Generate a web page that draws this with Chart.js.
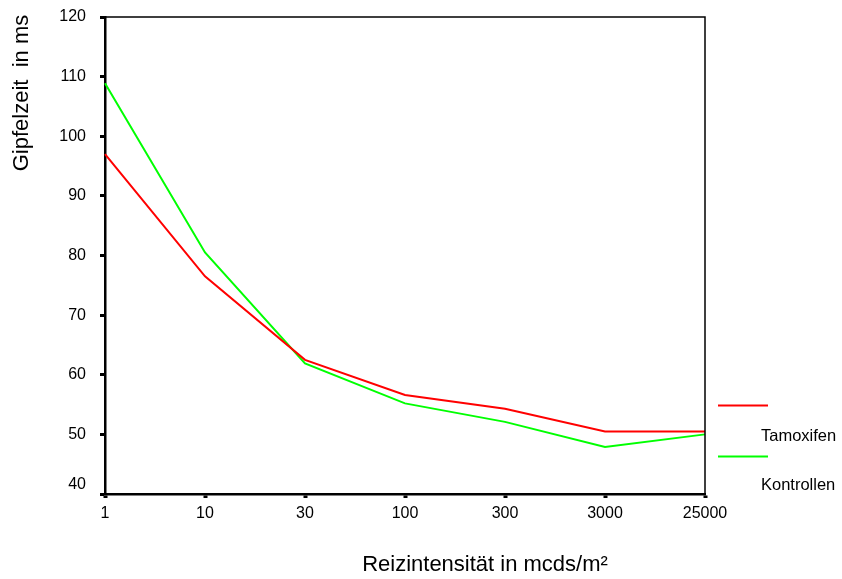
<!DOCTYPE html>
<html lang="de">
<head>
    <meta charset="UTF-8">
    <title>Gipfelzeit nach Reizintensität</title>
    <script src="https://cdn.jsdelivr.net/npm/chart.js"></script>
    <style>
        html, body {
            margin: 0;
            padding: 0;
            background: #fff;
        }

        #wrap {
            width: 842px;
            height: 579px;
        }
    </style>
</head>
<body>
    <div id="wrap">
        <canvas id="chart" width="842" height="579"></canvas>
    </div>

    <script>
        // Reizintensität (mcds/m²) on the x axis
        const intensities = ['1', '10', '30', '100', '300', '3000', '25000'];

        // Gipfelzeit in ms per group
        const tamoxifen = [97.0, 76.5, 62.5, 56.6, 54.3, 50.5, 50.5];
        const kontrollen = [108.9, 80.5, 61.9, 55.2, 52.1, 47.9, 50.0];

        const seriesNames = ['Tamoxifen', 'Kontrollen'];
        const seriesColors = ['#ff0000', '#00ff00'];

        const yMin = 40;
        const yMax = 120;
        const yStep = 10;

        const FONT = 'Arial, "Liberation Sans", sans-serif';
        const tickFont = { family: FONT, size: 16 };

        // closes the plot box on top and right, then writes titles and the legend
        const framePlugin = {
            id: 'frame',
            afterDraw(chart) {
                const ctx = chart.ctx;
                const a = chart.chartArea;
                ctx.save();
                ctx.strokeStyle = '#000';
                ctx.lineWidth = 1.5;
                ctx.beginPath();
                ctx.moveTo(a.left, a.top);
                ctx.lineTo(a.right, a.top);
                ctx.lineTo(a.right, a.bottom);
                ctx.stroke();

                // lowest y label sits a bit above its tick, clear of the x labels
                const y = chart.scales.y;
                ctx.fillStyle = '#000';
                ctx.font = tickFont.size + 'px ' + FONT;
                ctx.textAlign = 'right';
                ctx.textBaseline = 'middle';
                ctx.fillText(String(yMin), a.left - 19, y.getPixelForValue(yMin) - 9);

                // axis titles
                ctx.font = '22px ' + FONT;
                ctx.textAlign = 'center';
                ctx.textBaseline = 'alphabetic';
                ctx.fillText('Reizintensität in mcds/m²', 485, 571);

                ctx.save();
                ctx.translate(28, 93);
                ctx.rotate(-Math.PI / 2);
                ctx.fillText('Gipfelzeit  in ms', 0, 0);
                ctx.restore();

                // legend: a line, its name below and to the right
                ctx.font = '16.5px ' + FONT;
                ctx.textAlign = 'left';
                ctx.lineWidth = 2;
                const rows = [[405.5, 441], [456.5, 490]];
                seriesNames.forEach((name, i) => {
                    ctx.strokeStyle = seriesColors[i];
                    ctx.beginPath();
                    ctx.moveTo(718, rows[i][0]);
                    ctx.lineTo(768, rows[i][0]);
                    ctx.stroke();
                    ctx.fillText(name, 761, rows[i][1]);
                });
                ctx.restore();
            }
        };

        new Chart(document.getElementById('chart'), {
            type: 'line',
            data: {
                labels: intensities,
                datasets: [
                    {
                        label: seriesNames[0],
                        data: tamoxifen,
                        borderColor: seriesColors[0],
                        borderWidth: 2,
                        pointRadius: 0,
                        tension: 0
                    },
                    {
                        label: seriesNames[1],
                        data: kontrollen,
                        borderColor: seriesColors[1],
                        borderWidth: 2,
                        pointRadius: 0,
                        tension: 0
                    }
                ]
            },
            options: {
                responsive: false,
                animation: false,
                layout: {
                    padding: { top: 17, right: 137, left: 0, bottom: 0 }
                },
                plugins: {
                    legend: { display: false },
                    tooltip: { enabled: false }
                },
                scales: {
                    x: {
                        offset: false,
                        afterFit(scale) { scale.height = 85; },
                        border: { color: '#000', width: 2.5 },
                        grid: {
                            drawOnChartArea: false,
                            tickLength: 4,
                            tickWidth: 4,
                            tickColor: '#000'
                        },
                        ticks: {
                            color: '#000',
                            font: tickFont,
                            padding: 6,
                            maxRotation: 0,
                            autoSkip: false
                        }
                    },
                    y: {
                        min: yMin,
                        max: yMax,
                        afterFit(scale) {
                            scale.width = 105;
                            // tick padding would otherwise push the plot down
                            scale.paddingTop = 0;
                            scale.paddingBottom = 0;
                        },
                        border: { color: '#000', width: 2.5 },
                        grid: {
                            drawOnChartArea: false,
                            tickLength: 5,
                            tickWidth: 3,
                            tickColor: '#000'
                        },
                        ticks: {
                            stepSize: yStep,
                            color: '#000',
                            font: tickFont,
                            padding: 14,
                            // the 40 is drawn by the frame plugin
                            callback: (v) => (v === yMin ? '' : v)
                        }
                    }
                }
            },
            plugins: [framePlugin]
        });
    </script>
</body>
</html>
